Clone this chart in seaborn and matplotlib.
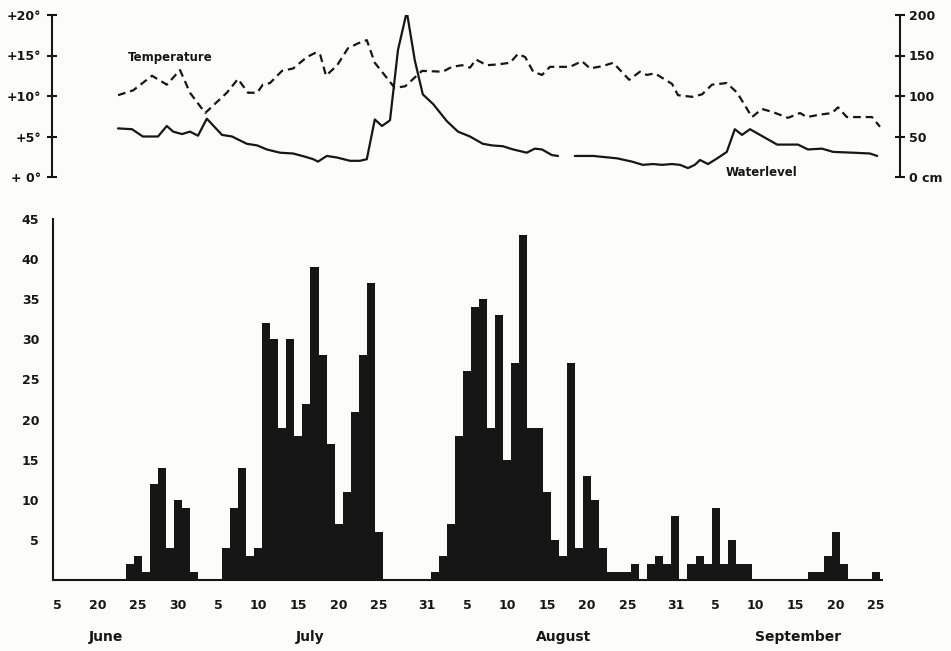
import numpy as np
import pandas as pd
import matplotlib
matplotlib.use("Agg")
import matplotlib.pyplot as plt
import seaborn as sns
from matplotlib.transforms import blended_transform_factory

sns.set_theme(style="white")
plt.rcParams["font.family"] = ["DejaVu Sans"]
plt.rcParams["font.weight"] = "bold"

INK = "#161616"
BG = "#fcfcf9"

# Day index: June 20 = 20, July 1 = 31, Aug 1 = 62, Sep 1 = 93 (June 5 drawn compressed at 15)
bar_days = [24, 25, 26, 27, 28, 29, 30, 31, 32,
            36, 37, 38, 39, 40, 41, 42, 43, 44, 45, 46, 47, 48, 49, 50, 51, 52, 53, 54, 55,
            62, 63, 64, 65, 66, 67, 68, 69, 70, 71, 72, 73, 74, 75, 76, 77, 78, 79, 80, 81,
            82, 83, 84, 85, 86, 87, 89, 90, 91, 92, 94, 95, 96, 97, 98, 99, 100, 101,
            109, 110, 111, 112, 113, 117]
bar_counts = [2, 3, 1, 12, 14, 4, 10, 9, 1,
              4, 9, 14, 3, 4, 32, 30, 19, 30, 18, 22, 39, 28, 17, 7, 11, 21, 28, 37, 6,
              1, 3, 7, 18, 26, 34, 35, 19, 33, 15, 27, 43, 19, 19, 11, 5, 3, 27, 4, 13,
              10, 4, 1, 1, 1, 2, 2, 3, 2, 8, 2, 3, 2, 9, 2, 5, 2, 2,
              1, 1, 3, 6, 2, 1]

temp_days = [22.5, 24.4, 26.75, 28.6, 30.25, 31.5, 33.4, 36.1, 37.5, 38.75, 39.9, 40.6,
             41.5, 43.0, 44.4, 46.1, 47.1, 47.75, 48.5, 49.9, 51.25, 52.5, 53.6, 54.6,
             57.1, 58.4, 60.5, 63.1, 64.25, 65.5, 66.5, 67.25, 68.6, 70.0, 71.5, 72.5,
             73.4, 74.4, 75.5, 76.5, 79.0, 80.5, 81.5, 83.1, 84.4, 86.4, 87.75, 88.6,
             89.6, 91.75, 92.5, 94.25, 95.5, 96.75, 98.6, 99.9, 101.75, 103.0, 104.4,
             106.25, 107.75, 108.6, 110.25, 111.75, 112.5, 113.6, 115.0, 116.75, 117.75]
temp_values = [10.1, 10.7, 12.5, 11.4, 13.2, 10.4, 7.9, 10.4, 12.1, 10.4, 10.4, 11.4,
               11.6, 13.1, 13.4, 14.8, 15.3, 15.2, 12.5, 13.8, 15.9, 16.5, 16.9, 14.1,
               11.0, 11.2, 13.1, 13.0, 13.6, 13.8, 13.5, 14.5, 13.8, 13.9, 14.1, 15.2,
               14.8, 13.0, 12.6, 13.6, 13.6, 14.3, 13.4, 13.7, 14.1, 12.0, 13.0, 12.6,
               12.8, 11.5, 10.1, 9.9, 10.2, 11.4, 11.6, 10.4, 7.4, 8.4, 8.0,
               7.3, 7.9, 7.4, 7.7, 7.9, 8.6, 7.4, 7.4, 7.4, 6.2]

level_days = [22.5, 24.25, 25.6, 27.5, 28.6, 29.4, 30.5, 31.5, 32.5, 33.6, 35.5, 36.75,
              38.6, 39.9, 41.1, 42.75, 44.4, 45.9, 46.9, 47.5, 48.6, 49.9, 51.5, 52.75,
              53.6, 54.6, 55.5, 56.5, 57.5, 58.6, 59.6, 60.6, 61.9, 63.6, 65.0, 66.5,
              68.1, 69.25, 70.6, 71.9, 73.6, 74.6, 75.5, 76.75, 77.5,
              79.6, 81.9, 84.9, 86.75, 88.1, 89.4, 90.5, 91.75, 92.75, 93.75, 94.6,
              95.25, 96.25, 97.4, 98.6, 99.6, 100.5, 101.5, 103.1, 104.9, 107.5,
              108.75, 110.5, 111.9, 114.4, 116.5, 117.4]
level_values = [60, 59, 50, 50, 63, 56, 53, 56, 51, 72, 52, 50,
                41, 39, 34, 30, 29, 25, 22, 19, 26, 24, 20, 20,
                22, 71, 63, 70, 157, 204, 144, 102, 90, 69, 56, 50,
                41, 39, 38, 34, 30, 35, 34, 27, 26,
                26, 26, 23, 19, 15, 16, 15, 16, 15, 11, 15,
                21, 16, 23, 31, 59, 52, 59, 50, 40, 40,
                34, 35, 31, 30, 29, 26]
level_segment = [0] * 45 + [1] * 27

tick_days = [15, 20, 25, 30, 35, 40, 45, 50, 55, 61, 66, 71, 76, 81, 86, 92, 97, 102, 107, 112, 117]
tick_labels = ["5", "20", "25", "30", "5", "10", "15", "20", "25", "31", "5", "10", "15",
               "20", "25", "31", "5", "10", "15", "20", "25"]
months = ["June", "July", "August", "September"]
month_pos = [21.0, 46.5, 78.0, 107.25]

temp_ticks = [0, 5, 10, 15, 20]
temp_labels = ["+ 0°", "+5°", "+10°", "+15°", "+20°"]
level_ticks = [0, 50, 100, 150, 200]
level_labels = ["0 cm", "50", "100", "150", "200"]
count_ticks = [5, 10, 15, 20, 25, 30, 35, 40, 45]

W, H = 951, 651
fig = plt.figure(figsize=(W / 100, H / 100), dpi=100, facecolor=BG)

# ---------------- bottom: histogram ----------------
ax = fig.add_axes([53 / W, 1 - 580 / H, (882 - 53) / W, (580 - 219) / H])
ax.set_facecolor(BG)
bars = pd.DataFrame({"day": bar_days, "count": bar_counts})
sns.histplot(data=bars, x="day", weights="count", discrete=True, shrink=1,
             color=INK, alpha=1, linewidth=0, ax=ax)
ax.set_xlim(14.4, 117.75)
ax.set_ylim(0, 45)
ax.set_xlabel("")
ax.set_ylabel("")
for s in ["top", "right"]:
    ax.spines[s].set_visible(False)
for s in ["left", "bottom"]:
    ax.spines[s].set_color(INK)
    ax.spines[s].set_linewidth(1.5)
ax.set_xticks(tick_days)
ax.set_xticklabels(tick_labels)
ax.set_yticks(count_ticks)
ax.set_yticklabels([str(v) for v in count_ticks])
ax.tick_params(axis="x", direction="out", length=6, width=1.5, color=INK,
               labelsize=9, pad=8, labelcolor=INK)
ax.tick_params(axis="y", direction="out", length=6, width=1.5, color=INK,
               labelsize=9, pad=4, labelcolor=INK)
ax.grid(False)
tr = blended_transform_factory(ax.transData, fig.transFigure)
for m, xp in zip(months, month_pos):
    ax.text(xp, 1 - 637 / H, m, transform=tr, ha="center", va="center",
            fontsize=10, color=INK, fontweight="bold")

# ---------------- top: temperature & water level ----------------
axt = fig.add_axes([52 / W, 1 - 177 / H, (900 - 52) / W, (177 - 15) / H])
axt.patch.set_alpha(0)
temp = pd.DataFrame({"day": temp_days, "temp": temp_values})
sns.lineplot(data=temp, x="day", y="temp", ax=axt, color=INK, linewidth=1.6,
             linestyle=(0, (3.5, 2.2)), estimator=None, sort=False)
axt.set_xlim(14.25, 120.25)
axt.set_ylim(0, 20)
axt.set_xlabel("")
axt.set_ylabel("")
axt.set_xticks([])
axt.set_yticks(temp_ticks)
axt.set_yticklabels(temp_labels)
axt.tick_params(axis="y", direction="inout", length=7, width=1.5, color=INK,
                labelsize=9, pad=4, labelcolor=INK)
for s in ["top", "right", "bottom"]:
    axt.spines[s].set_visible(False)
axt.spines["left"].set_color(INK)
axt.spines["left"].set_linewidth(1.5)
axt.grid(False)

axr = axt.twinx()
axr.patch.set_alpha(0)
level = pd.DataFrame({"day": level_days, "level": level_values, "seg": level_segment})
sns.lineplot(data=level, x="day", y="level", units="seg", estimator=None, sort=False,
             ax=axr, color=INK, linewidth=1.6)
axr.set_xlim(14.25, 120.25)
axr.set_ylim(0, 200)
axr.set_ylabel("")
axr.set_yticks(level_ticks)
axr.set_yticklabels(level_labels)
axr.tick_params(axis="y", direction="inout", length=7, width=1.5, color=INK,
                labelsize=9, pad=3, labelcolor=INK)
for s in ["top", "left", "bottom"]:
    axr.spines[s].set_visible(False)
axr.spines["right"].set_color(INK)
axr.spines["right"].set_linewidth(1.5)
axr.grid(False)

axt.text(23.75, 14.7, "Temperature", ha="left", va="center", fontsize=8.5,
         color=INK, fontweight="bold")
axt.text(98.4, 0.6, "Waterlevel", ha="left", va="center", fontsize=8.5,
         color=INK, fontweight="bold")

fig.savefig("out.png", dpi=100, facecolor=BG)
